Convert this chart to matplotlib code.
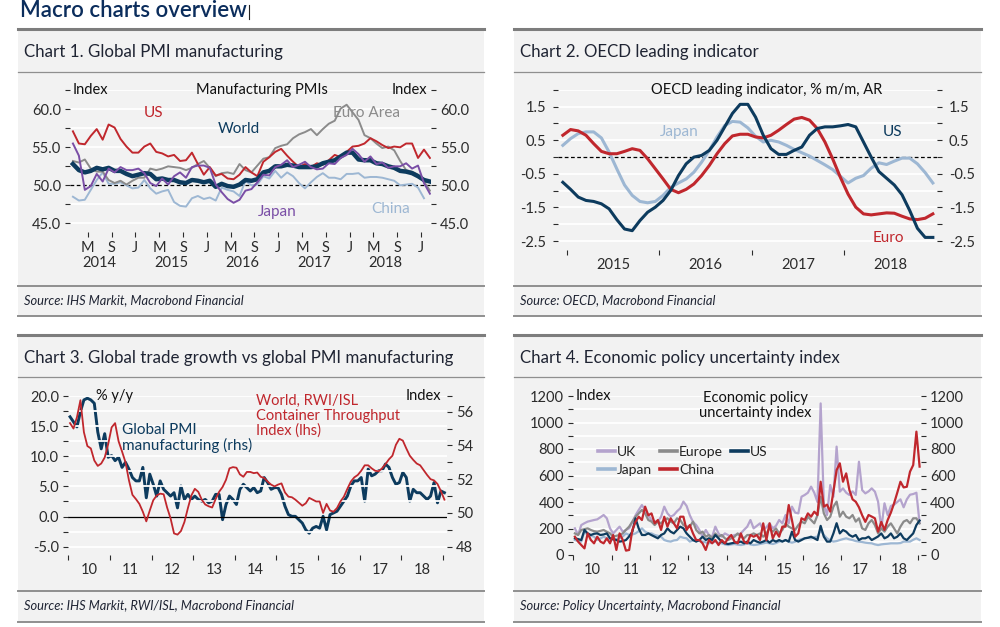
import matplotlib
matplotlib.use('Agg')
import numpy as np
import pandas as pd
import matplotlib.pyplot as plt
from matplotlib.lines import Line2D
from matplotlib.patches import Rectangle
from matplotlib.transforms import blended_transform_factory

plt.rcParams['font.family'] = ['Lato', 'DejaVu Sans']

# ---------------- chart 1: manufacturing PMIs, Feb 2014 - Feb 2019 ----------------
pmi_months = pd.period_range('2014-02', '2019-02', freq='M')
pmi_us = [57.1, 55.5, 55.4, 56.5, 57.4, 56.0, 58.0, 57.6, 56.1, 55.1, 54.3,
          54.3, 55.1, 55.5, 54.4, 54.2, 53.8, 54.0, 53.2, 53.3, 54.3, 52.8, 51.4,
          52.4, 51.3, 51.5, 50.9, 50.8, 51.4, 52.4, 51.7, 51.2, 53.1, 53.7, 54.4,
          54.8, 53.9, 53.1, 52.4, 52.8, 52.4, 52.9, 52.7, 53.3, 54.0, 53.7, 54.4,
          55.1, 55.2, 55.5, 56.2, 55.8, 55.3, 54.9, 55.1, 55.0, 55.5, 55.5, 53.6,
          54.7, 53.6]
pmi_world = [52.8, 52.0, 51.7, 51.9, 52.3, 52.1, 52.3, 51.9, 51.9, 51.5, 51.2,
             51.4, 51.6, 51.5, 50.8, 50.9, 50.7, 50.7, 50.4, 50.3, 50.7, 50.6, 50.4,
             50.6, 49.8, 50.2, 49.9, 49.8, 50.1, 50.7, 50.6, 50.8, 51.7, 51.9, 52.5,
             52.5, 52.7, 52.6, 52.4, 52.4, 52.4, 52.5, 52.9, 53.1, 53.3, 53.8, 54.3,
             54.3, 53.4, 53.3, 53.3, 52.9, 52.8, 52.5, 52.3, 51.9, 51.8, 51.6, 51.2,
             50.7, 50.5]
pmi_euro = [53.2, 53.0, 53.4, 52.2, 51.8, 51.8, 50.7, 50.3, 50.6, 50.1, 50.6,
            51.0, 51.0, 52.2, 52.0, 52.2, 52.5, 52.4, 52.3, 52.0, 52.3, 52.8, 53.2,
            52.3, 51.2, 51.6, 51.7, 51.5, 52.8, 52.0, 51.7, 52.6, 53.5, 53.7, 54.9,
            55.2, 55.4, 56.2, 56.7, 57.0, 57.4, 56.6, 57.4, 58.1, 58.5, 60.1, 60.6,
            59.6, 58.6, 56.6, 56.2, 55.5, 54.9, 55.1, 54.6, 53.2, 52.0, 51.8, 51.4,
            50.5, 49.3]
pmi_japan = [55.5, 53.9, 49.4, 49.9, 51.5, 50.5, 52.2, 51.7, 52.4, 52.0, 52.0,
             52.2, 51.6, 50.3, 49.9, 50.9, 50.1, 51.2, 51.7, 51.0, 52.4, 52.6, 52.6,
             52.3, 50.1, 49.1, 48.2, 47.7, 48.1, 49.3, 49.5, 50.4, 51.4, 51.3, 52.4,
             52.7, 53.3, 52.4, 52.7, 53.1, 52.4, 52.1, 52.2, 52.9, 52.8, 53.6, 54.0,
             54.8, 54.1, 53.1, 53.8, 52.8, 53.0, 52.3, 52.5, 52.5, 52.9, 52.2, 52.6,
             50.3, 48.9]
pmi_china = [48.5, 48.0, 48.1, 49.4, 50.7, 51.7, 50.2, 50.2, 50.4, 50.0, 49.6,
             49.7, 50.7, 49.6, 48.9, 49.2, 49.4, 47.8, 47.3, 47.2, 48.3, 48.6, 48.2,
             48.4, 48.0, 49.7, 49.4, 49.2, 48.6, 50.6, 50.0, 50.1, 51.2, 50.9, 51.9,
             51.0, 51.7, 51.2, 50.3, 49.6, 50.4, 51.1, 51.6, 51.0, 51.0, 50.8, 51.5,
             51.5, 51.6, 51.0, 51.1, 51.1, 51.0, 50.8, 50.6, 50.0, 50.1, 50.2, 49.7,
             48.3]

# ---------------- chart 2: OECD leading indicator, Dec 2014 - Dec 2018 ----------------
cli_months = pd.period_range('2014-12', '2018-12', freq='M')
cli_us = [-0.75,
          -0.96, -1.19, -1.29, -1.32, -1.39, -1.54, -1.86, -2.14, -2.19, -1.89, -1.64, -1.49,
          -1.29, -0.99, -0.55, -0.20, 0.00, 0.05, 0.20, 0.50, 0.90, 1.30, 1.57, 1.57,
          1.19, 0.65, 0.25, 0.08, 0.08, 0.20, 0.30, 0.65, 0.85, 0.90, 0.90, 0.93,
          0.97, 0.90, 0.45, 0.00, -0.43, -0.63, -0.83, -1.12, -1.59, -2.12, -2.39, -2.39]
cli_euro = [0.65,
            0.82, 0.78, 0.65, 0.40, 0.17, 0.10, 0.10, 0.17, 0.25, 0.20, -0.05, -0.35,
            -0.65, -0.96, -1.06, -0.96, -0.80, -0.55, -0.25, 0.10, 0.40, 0.63, 0.68, 0.68,
            0.60, 0.57, 0.65, 0.80, 0.97, 1.13, 1.18, 1.10, 0.85, 0.45, -0.05, -0.60,
            -1.10, -1.49, -1.69, -1.72, -1.69, -1.66, -1.67, -1.76, -1.84, -1.86, -1.82, -1.69]
cli_japan = [0.35,
             0.55, 0.70, 0.75, 0.75, 0.57, 0.15, -0.35, -0.83, -1.14, -1.32, -1.36, -1.32,
             -1.14, -0.90, -0.77, -0.65, -0.45, -0.15, 0.20, 0.60, 0.94, 1.06, 1.04, 0.87,
             0.62, 0.45, 0.50, 0.45, 0.35, 0.23, 0.13, 0.03, -0.10, -0.23, -0.37, -0.57,
             -0.77, -0.63, -0.55, -0.33, -0.17, -0.22, -0.12, -0.03, -0.03, -0.20, -0.46, -0.77]

# ---------------- chart 3: trade vs PMI, Jan 2010 - Jan 2019 ----------------
trade_months = pd.period_range('2010-01', '2019-01', freq='M')
rwi_isl = [15.5, 14.6, 16.5, 19.3, 14.0, 11.7, 11.3, 9.3, 8.4, 8.8, 9.8, 12.0,
           14.8, 15.5, 12.5, 10.8, 9.0, 6.0, 3.6, 2.9, 2.1, 0.8, -0.8, 1.0,
           2.7, 3.5, 3.8, 3.7, 1.5, -0.3, -2.8, -3.0, -2.4, -0.9, 1.4, 3.5,
           4.6, 4.1, 2.8, 2.0, 1.7, 1.5, 2.9, 4.1, 4.9, 6.1, 8.0, 8.2,
           8.1, 7.0, 6.6, 7.4, 7.4, 7.2, 7.3, 6.6, 6.4, 5.8, 5.3, 5.0,
           5.3, 5.5, 4.0, 3.3, 3.2, 2.8, 2.3, 1.8, 2.2, 3.1, 2.8, 2.5,
           2.5, 0.6, 2.1, 1.0, 0.8, 1.4, 2.5, 3.3, 4.6, 5.8, 6.5, 6.9,
           7.6, 8.5, 8.5, 8.0, 7.6, 7.5, 8.0, 8.7, 9.5, 10.1, 11.9, 12.9,
           12.6, 11.3, 10.1, 9.4, 8.8, 8.5, 7.7, 6.9, 6.2, 6.0, 5.4, 4.2,
           2.8]
global_pmi = [55.7, 55.4, 55.1, 56.0, 56.7, 56.8, 56.7, 56.5, 54.8, 53.8, 54.7, 53.3,
              53.4, 53.1, 53.3, 52.7, 53.0, 52.6, 52.1, 51.9, 51.9, 52.7, 50.9, 52.3,
              51.7, 51.0, 51.9, 51.4, 51.2, 51.0, 51.2, 50.3, 51.6, 50.8, 51.1, 50.8,
              51.0, 50.8, 50.7, 50.8, 50.6, 50.7, 51.1, 51.1, 49.6, 50.5, 51.0, 50.8,
              50.5, 51.4, 51.7, 51.5, 51.3, 51.5, 51.2, 51.3, 52.1, 51.8, 51.4, 51.5,
              51.5, 51.1, 50.4, 49.9, 49.8, 49.8, 49.6, 49.4, 49.0, 48.8, 49.1, 49.2,
              49.1, 49.8, 49.0, 49.9, 50.0, 50.1, 50.4, 50.7, 51.0, 51.6, 51.9, 51.9,
              52.1, 50.7, 52.6, 52.2, 52.3, 52.5, 52.5, 52.9, 52.7, 52.1, 51.7, 51.8,
              52.4, 52.1, 50.7, 51.4, 51.2, 51.2, 51.0, 50.8, 51.0, 51.8, 50.6, 51.3,
              51.2]

# ---------------- chart 4: economic policy uncertainty, Jan 2010 - Jan 2019 ----------------
epu_months = pd.period_range('2010-01', '2019-01', freq='M')
epu_uk = [201, 151, 226, 240, 252, 258, 264, 269, 285, 302, 277, 201,
          163, 189, 214, 176, 190, 201, 250, 300, 340, 377, 340, 300,
          264, 252, 252, 289, 365, 314, 289, 302, 330, 352, 403, 370,
          300, 250, 226, 189, 138, 189, 150, 138, 214, 163, 138, 163,
          150, 138, 151, 155, 163, 190, 214, 264, 201, 220, 239, 189,
          210, 239, 201, 220, 264, 239, 302, 239, 365, 320, 314, 440,
          453, 470, 516, 470, 400, 1144, 380, 302, 528, 440, 818, 478,
          503, 470, 453, 480, 453, 704, 490, 465, 480, 503, 478, 402,
          200, 390, 300, 370, 380, 400, 420, 360, 420, 455, 460, 470,
          240]
epu_europe = [163, 151, 189, 195, 201, 189, 180, 176, 182, 189, 175, 163,
              138, 145, 151, 163, 190, 214, 252, 289, 314, 340, 314, 264,
              252, 226, 252, 239, 264, 277, 252, 239, 277, 264, 226, 214,
              214, 252, 189, 163, 176, 138, 151, 126, 163, 138, 151, 126,
              113, 126, 138, 163, 138, 126, 151, 151, 163, 151, 163, 138,
              163, 201, 176, 201, 163, 189, 239, 214, 201, 189, 226, 252,
              239, 289, 264, 239, 300, 440, 314, 264, 289, 365, 403, 289,
              327, 289, 277, 302, 252, 277, 201, 189, 239, 264, 226, 163,
              201, 176, 214, 239, 201, 163, 214, 252, 264, 239, 277, 277,
              239]
epu_us = [126, 120, 113, 189, 163, 151, 160, 163, 151, 155, 163, 126,
          120, 113, 101, 105, 113, 140, 176, 277, 200, 151, 151, 163,
          150, 138, 126, 151, 163, 201, 176, 163, 189, 214, 201, 163,
          138, 113, 101, 113, 138, 113, 126, 113, 151, 126, 101, 88,
          83, 88, 93, 95, 101, 88, 101, 88, 113, 101, 93, 101,
          113, 93, 113, 101, 113, 101, 113, 101, 176, 113, 101, 113,
          126, 130, 138, 126, 113, 220, 138, 101, 101, 163, 240, 163,
          189, 176, 151, 138, 151, 113, 126, 126, 138, 113, 126, 140,
          163, 126, 138, 163, 126, 138, 163, 126, 113, 138, 163, 226,
          260]
epu_japan = [113, 105, 101, 176, 151, 145, 138, 113, 125, 138, 126, 120,
             113, 120, 126, 140, 163, 151, 155, 163, 180, 201, 176, 163,
             163, 151, 145, 138, 113, 105, 101, 110, 113, 138, 130, 126,
             101, 110, 113, 105, 101, 95, 88, 95, 101, 92, 88, 80,
             75, 80, 83, 78, 75, 80, 88, 80, 75, 78, 83, 88,
             93, 88, 83, 90, 101, 105, 113, 100, 93, 100, 113, 120,
             126, 130, 126, 135, 138, 189, 151, 126, 110, 101, 105, 113,
             120, 126, 118, 113, 105, 101, 98, 93, 90, 88, 80, 75,
             80, 83, 85, 88, 88, 88, 90, 101, 101, 101, 115, 126,
             113]
epu_china = [138, 101, 75, 50, 163, 113, 88, 138, 101, 88, 126, 88,
             151, 38, 163, 113, 33, 38, 189, 250, 289, 264, 365, 300,
             314, 239, 264, 189, 289, 214, 277, 239, 201, 289, 289, 189,
             226, 163, 113, 113, 88, 38, 113, 88, 113, 75, 113, 88,
             126, 151, 101, 88, 163, 101, 88, 151, 138, 151, 113, 239,
             113, 239, 126, 176, 138, 214, 214, 377, 264, 138, 163, 277,
             264, 314, 289, 327, 302, 553, 365, 380, 327, 480, 641, 692,
             553, 616, 491, 420, 402, 360, 300, 250, 302, 290, 277, 176,
             250, 189, 264, 320, 390, 470, 553, 510, 515, 629, 679, 931,
             667]

# ---------------- style ----------------
W, H = 1000, 627
NAVY = '#0d3b5e'
RED = '#c0272d'
GREY = '#8b8b8b'
PURPLE = '#7a4ea6'
LBLUE = '#9db7d3'
LAV = '#b4a3cd'
PANEL = '#f2f2f2'
TXT = '#1f2433'
TICK = '#2b2b2b'
LAB = '#111111'
TS = 10.5      # tick label size


def dec(months):
    return np.array([p.year + (p.month - 0.5) / 12 for p in months])


fig = plt.figure(figsize=(W / 100, H / 100), dpi=100)
fig.patch.set_facecolor('white')


def fline(x0, x1, y, lw, c):
    fig.add_artist(Line2D([x0 / W, x1 / W], [1 - y / H] * 2, transform=fig.transFigure,
                          lw=lw, color=c, zorder=-5))


def panel(x0, x1, ytop, ysep, ysrc, ybot, title, ytitle, source, ysource):
    fig.add_artist(Rectangle((x0 / W, 1 - ybot / H), (x1 - x0) / W, (ybot - ytop) / H,
                             transform=fig.transFigure, fc=PANEL, ec='none', zorder=-10))
    fline(x0, x1, ytop, 2.2, '#7d7d7d')
    fline(x0, x1, ysep, 0.9, '#8f8f8f')
    fline(x0, x1, ysrc, 1.4, '#8f8f8f')
    fline(x0, x1, ybot, 1.4, '#8f8f8f')
    fig.text((x0 + 6) / W, 1 - ytitle / H, title, fontsize=12.2, color=TXT, va='center')
    fig.text((x0 + 6) / W, 1 - ysource / H, source, fontsize=9.3, style='italic',
             color=TXT, va='center')


def box(l, t, r, b):
    ax = fig.add_axes([l / W, 1 - b / H, (r - l) / W, (b - t) / H])
    ax.patch.set_visible(False)
    for s in ax.spines.values():
        s.set_visible(False)
    ax.tick_params(which='both', direction='out', length=3.6, width=0.8, color=TICK,
                   labelcolor=TICK, labelsize=TS)
    return ax


def grid(ax, values, dashed=None, solid=None):
    for v in values:
        ax.axhline(v, color='white', lw=1.3, zorder=0.5)
    if dashed is not None:
        ax.axhline(dashed, color='black', lw=0.9, ls=(0, (3, 2)), zorder=1)
    if solid is not None:
        ax.axhline(solid, color='black', lw=0.9, zorder=1)


# main title
fig.text(20 / W, 1 - 17 / H, 'Macro charts overview', fontsize=16, color='#0b2d5c',
         va='baseline', fontweight='semibold')
fig.add_artist(Line2D([249 / W, 249 / W], [1 - 5 / H, 1 - 19 / H], transform=fig.transFigure,
                      lw=0.8, color='#222222'))

panel(18, 484, 29.3, 72, 286, 316, 'Chart 1. Global PMI manufacturing', 52.5,
      'Source: IHS Markit, Macrobond Financial', 300.5)
panel(514, 981, 29.3, 72, 286, 316, 'Chart 2. OECD leading indicator', 52.5,
      'Source: OECD, Macrobond Financial', 300.5)
panel(18, 484, 335, 377.3, 591, 621.5, 'Chart 3. Global trade growth vs global PMI manufacturing',
      357.5, 'Source: IHS Markit, RWI/ISL, Macrobond Financial', 605.5)
panel(514, 981, 335, 377.3, 591, 621.5, 'Chart 4. Economic policy uncertainty index',
      357.5, 'Source: Policy Uncertainty, Macrobond Financial', 605.5)

# ================= chart 1 =================
ax1 = box(70, 90.3, 431, 232)
x = dec(pmi_months)
ax1.set_xlim(2014 + 6 / 71.4, 2014 + 367 / 71.4)
ax1.set_ylim(43.86, 62.5)
grid(ax1, [45, 47.5, 52.5, 55, 57.5, 60, 62.5], dashed=50)
ax1.plot(x[:len(pmi_china)], pmi_china, color=LBLUE, lw=1.4, zorder=2)
ax1.plot(x, pmi_euro, color=GREY, lw=1.4, zorder=2.1)
ax1.plot(x, pmi_us, color=RED, lw=1.4, zorder=2.2)
ax1.plot(x, pmi_world, color=NAVY, lw=3.2, zorder=2.3)
ax1.plot(x, pmi_japan, color=PURPLE, lw=1.4, zorder=2.4)
ax1.set_yticks([45, 50, 55, 60], ['45.0', '50.0', '55.0', '60.0'])
ax1.set_yticks([47.5, 52.5, 57.5, 62.5], minor=True)
ax1.tick_params(axis='y', which='both', left=True, right=True, labelleft=True,
                labelright=True, pad=3)
xt = [2014 + k / 3 for k in range(1, 16)]
ax1.set_xticks(xt, ['M', 'S', 'J'] * 5)
ax1.set_xticks([y + 0.5 for y in range(2014, 2019)], [str(y) for y in range(2014, 2019)],
               minor=True)
ax1.tick_params(axis='x', which='major', pad=3)
ax1.tick_params(axis='x', which='minor', length=0, pad=17)
tr1 = blended_transform_factory(ax1.transAxes, ax1.transData)
ax1.text(0.006, 62.5, 'Index', transform=tr1, fontsize=TS, color=LAB, va='center')
ax1.text(0.99, 62.5, 'Index', transform=tr1, fontsize=TS, color=LAB, va='center',
         ha='right')
ax1.text(0.532, 62.5, 'Manufacturing PMIs', transform=tr1, fontsize=TS, color=LAB,
         va='center', ha='center')
ax1.text(2015.25, 59.5, 'US', color=RED, fontsize=11, ha='center', va='center')
ax1.text(2016.45, 57.4, 'World', color=NAVY, fontsize=11, ha='center', va='center')
ax1.text(2018.23, 59.5, 'Euro Area', color=GREY, fontsize=11, ha='center', va='center',
         zorder=1.5)
ax1.text(2016.99, 46.5, 'Japan', color=PURPLE, fontsize=11, ha='center', va='center')
ax1.text(2018.58, 46.9, 'China', color=LBLUE, fontsize=11, ha='center', va='center')

# ================= chart 2 =================
ax2 = box(558, 89.9, 937, 250)
x = dec(cli_months)
ax2.set_xlim(2015 - 8.7 / 92.5, 2015 + 370.3 / 92.5)
ax2.set_ylim(-2.765, 2.0)
grid(ax2, [-2.5, -2, -1.5, -1, -0.5, 0.5, 1, 1.5, 2], dashed=0)
ax2.plot(x, cli_japan, color=LBLUE, lw=2.2, zorder=2)
ax2.plot(x, cli_euro, color=RED, lw=2.2, zorder=2.1)
ax2.plot(x, cli_us, color=NAVY, lw=2.2, zorder=2.2)
ax2.set_yticks([-2.5, -1.5, -0.5, 0.5, 1.5], ['-2.5', '-1.5', '-0.5', '0.5', '1.5'])
ax2.set_yticks([-2, -1, 0, 1, 2], minor=True)
ax2.tick_params(axis='y', which='both', left=True, right=True, labelleft=True,
                labelright=True, pad=5)
ax2.set_xticks([2015, 2016, 2017, 2018], [])
ax2.set_xticks([2015.5, 2016.5, 2017.5, 2018.5], ['2015', '2016', '2017', '2018'], minor=True)
ax2.tick_params(axis='x', which='minor', length=0, pad=6)
tr2 = blended_transform_factory(ax2.transAxes, ax2.transData)
ax2.text(0.55, 2.0, 'OECD leading indicator, % m/m, AR', transform=tr2, fontsize=TS,
         color=LAB, ha='center', va='center')
ax2.text(2016.22, 0.74, 'Japan', color=LBLUE, fontsize=11, ha='center', va='center')
ax2.text(2018.52, 0.74, 'US', color=NAVY, fontsize=11, ha='center', va='center')
ax2.text(2018.48, -2.41, 'Euro', color=RED, fontsize=11, ha='center', va='center')

# ================= chart 3 =================
ax3 = box(68.3, 396, 446.7, 555)
x = dec(trade_months)
ax3.set_xlim(2010, 2010 + 378.4 / 41.6)
ax3.set_ylim(-6.38, 20)
grid(ax3, [-5, -2.5, 2.5, 5, 7.5, 10, 12.5, 15, 17.5, 20], solid=0)
ax3r = ax3.twinx()
ax3r.patch.set_visible(False)
for s in ax3r.spines.values():
    s.set_visible(False)
ax3r.set_ylim(48 + (-6.38 + 5) * 0.3573, 48 + 25 * 0.3573)
ax3r.plot(x, global_pmi, color=NAVY, lw=2.1, zorder=2)
ax3.plot(x, rwi_isl, color=RED, lw=1.3, zorder=3)
ax3.set_zorder(ax3r.get_zorder() + 1)
ax3.set_yticks([-5, 0, 5, 10, 15, 20], ['-5.0', '0.0', '5.0', '10.0', '15.0', '20.0'])
ax3.set_yticks([-2.5, 2.5, 7.5, 12.5, 17.5], minor=True)
ax3.tick_params(axis='y', which='both', pad=3)
ax3r.set_yticks([48, 50, 52, 54, 56], ['48', '50', '52', '54', '56'])
ax3r.set_yticks([49, 51, 53, 55, 48 + 25 * 0.3573], minor=True)
ax3r.tick_params(which='both', direction='out', length=3.6, width=0.8, color=TICK,
                 labelcolor=TICK, labelsize=TS, pad=3)
ax3.set_xticks(range(2010, 2020), [])
ax3.set_xticks([y + 0.5 for y in range(2010, 2019)], [str(y)[2:] for y in range(2010, 2019)],
               minor=True)
ax3.tick_params(axis='x', which='minor', length=0, pad=6)
tr3 = blended_transform_factory(ax3.transAxes, ax3.transData)
ax3.text(0.073, 20, '% y/y', transform=tr3, fontsize=TS, color=LAB, va='center')
ax3.text(0.985, 20, 'Index', transform=tr3, fontsize=TS, color=LAB, va='center',
         ha='right')
ax3.text(2011.3, 15.6, 'Global PMI\nmanufacturing (rhs)', color=NAVY, fontsize=11,
         va='top', linespacing=1.1)
ax3.text(2014.5, 20.4, 'World, RWI/ISL\nContainer Throughput\nIndex (lhs)', color=RED,
         fontsize=10.5, va='top', linespacing=1.1)

# ================= chart 4 =================
ax4 = box(573.3, 396, 921, 555)
x = dec(epu_months)
ax4.set_xlim(2010, 2010 + 347.7 / 38.3)
ax4.set_ylim(0, 1200)
grid(ax4, range(100, 1201, 100))
l_uk, = ax4.plot(x, epu_uk, color=LAV, lw=1.6, zorder=2)
l_jp, = ax4.plot(x, epu_japan, color=LBLUE, lw=1.6, zorder=2.1)
l_eu, = ax4.plot(x, epu_europe, color=GREY, lw=1.6, zorder=2.2)
l_us, = ax4.plot(x, epu_us, color=NAVY, lw=1.6, zorder=2.3)
l_cn, = ax4.plot(x, epu_china, color=RED, lw=1.6, zorder=2.4)
ax4.set_yticks(range(0, 1201, 200), [str(v) for v in range(0, 1201, 200)])
ax4.set_yticks(range(100, 1200, 200), minor=True)
ax4.tick_params(axis='y', which='both', left=True, right=True, labelleft=True,
                labelright=True, pad=3)
ax4.set_xticks(range(2010, 2020), [])
ax4.set_xticks([y + 0.5 for y in range(2010, 2019)], [str(y)[2:] for y in range(2010, 2019)],
               minor=True)
ax4.tick_params(axis='x', which='minor', length=0, pad=6)
tr4 = blended_transform_factory(ax4.transAxes, ax4.transData)
ax4.text(0.006, 1200, 'Index', transform=tr4, fontsize=TS, color=LAB, va='center')
ax4.text(0.523, 1235, 'Economic policy\nuncertainty index', transform=tr4, fontsize=TS,
         color=LAB, va='top', ha='center', linespacing=1.1)
leg = ax4.legend([l_uk, l_jp, l_eu, l_cn, l_us], ['UK', 'Japan', 'Europe', 'China', 'US'],
                 ncol=3, loc='upper left', bbox_to_anchor=(0.055, 0.72), frameon=False,
                 fontsize=10, handlelength=1.2, handletextpad=0.15, columnspacing=0.6,
                 labelspacing=0.45, borderaxespad=0)
for h in leg.legend_handles:
    h.set_linewidth(2.6)
for t in leg.get_texts():
    t.set_color('#222222')

fig.savefig('out.png', dpi=100)
